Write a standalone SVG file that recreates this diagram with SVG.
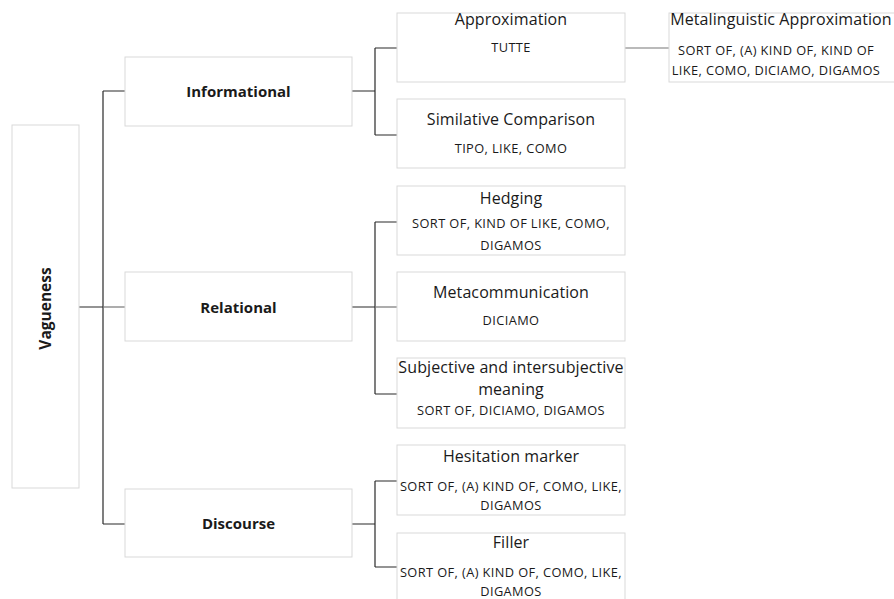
<svg xmlns="http://www.w3.org/2000/svg" width="894" height="599" viewBox="0 0 894 599">
<style>
.box{fill:#fff;stroke:#d9d9d9;stroke-width:1}
.t{font-family:"Open Sans","Liberation Sans",sans-serif;fill:#1a1a1a;text-anchor:middle}
.h{font-size:16px;letter-spacing:0.1px}
.b{font-size:15px;font-weight:bold}
.s{font-size:12.8px;letter-spacing:0.4px}
.c{fill:none;stroke:#2a2a2a;stroke-width:1.2}
.g{fill:none;stroke:#777;stroke-width:1.2}
</style>
<rect width="894" height="599" fill="#fff"/>
<g id="connectors">
<path class="c" d="M79,307 H103 M103,91 V524 M103,91 H125 M103,524 H125"/>
<path class="g" d="M103,307 H125"/>
<path class="c" d="M352,91 H375 M375,48 V135 M375,48 H397 M375,135 H397"/>
<path class="g" d="M625,48 H669"/>
<path class="c" d="M352,307 H375 M375,222 V394 M375,222 H397 M375,394 H397"/>
<path class="g" d="M375,307 H397"/>
<path class="c" d="M352,524 H375 M375,481 V567 M375,481 H397 M375,567 H397"/>
</g>
<g id="vagueness">
<rect class="box" x="12" y="125" width="67" height="363" stroke="#e3e3e3"/>
<text class="t b" transform="translate(50.5,308.5) rotate(-90)" style="font-size:15.5px">Vagueness</text>
</g>
<g id="informational">
<rect class="box" x="125" y="57" width="227" height="69"/>
<text class="t b" x="238.5" y="96.5">Informational</text>
</g>
<g id="relational">
<rect class="box" x="125" y="272" width="227" height="69"/>
<text class="t b" x="238.5" y="312.5">Relational</text>
</g>
<g id="discourse">
<rect class="box" x="125" y="489" width="227" height="68"/>
<text class="t b" x="238.5" y="529">Discourse</text>
</g>
<g id="approximation">
<rect class="box" x="397" y="13" width="228" height="69"/>
<text class="t h" x="511" y="25">Approximation</text>
<text class="t s" x="511" y="52">TUTTE</text>
</g>
<g id="metalinguistic">
<rect class="box" x="669" y="13" width="230" height="69"/>
<text class="t h" x="781" y="25">Metalinguistic Approximation</text>
<text class="t s" x="776" y="55">SORT OF, (A) KIND OF,  KIND OF</text>
<text class="t s" x="776" y="75">LIKE, COMO, DICIAMO, DIGAMOS</text>
</g>
<g id="similative">
<rect class="box" x="397" y="99" width="228" height="69"/>
<text class="t h" x="511" y="125">Similative Comparison</text>
<text class="t s" x="511" y="153">TIPO, LIKE, COMO</text>
</g>
<g id="hedging">
<rect class="box" x="397" y="186" width="228" height="69"/>
<text class="t h" x="511" y="204">Hedging</text>
<text class="t s" x="511" y="228">SORT OF, KIND OF LIKE, COMO,</text>
<text class="t s" x="511" y="250">DIGAMOS</text>
</g>
<g id="metacommunication">
<rect class="box" x="397" y="272" width="228" height="69"/>
<text class="t h" x="511" y="298">Metacommunication</text>
<text class="t s" x="511" y="325">DICIAMO</text>
</g>
<g id="subjective">
<rect class="box" x="397" y="358" width="228" height="70"/>
<text class="t h" x="511" y="373">Subjective and intersubjective</text>
<text class="t h" x="511" y="395">meaning</text>
<text class="t s" x="511" y="415">SORT OF, DICIAMO, DIGAMOS</text>
</g>
<g id="hesitation">
<rect class="box" x="397" y="445" width="228" height="70"/>
<text class="t h" x="511" y="462">Hesitation marker</text>
<text class="t s" x="511" y="491">SORT OF, (A) KIND OF, COMO, LIKE,</text>
<text class="t s" x="511" y="510">DIGAMOS</text>
</g>
<g id="filler">
<rect class="box" x="397" y="533" width="228" height="80"/>
<text class="t h" x="511" y="548">Filler</text>
<text class="t s" x="511" y="577">SORT OF, (A) KIND OF, COMO, LIKE,</text>
<text class="t s" x="511" y="596">DIGAMOS</text>
</g>
</svg>
